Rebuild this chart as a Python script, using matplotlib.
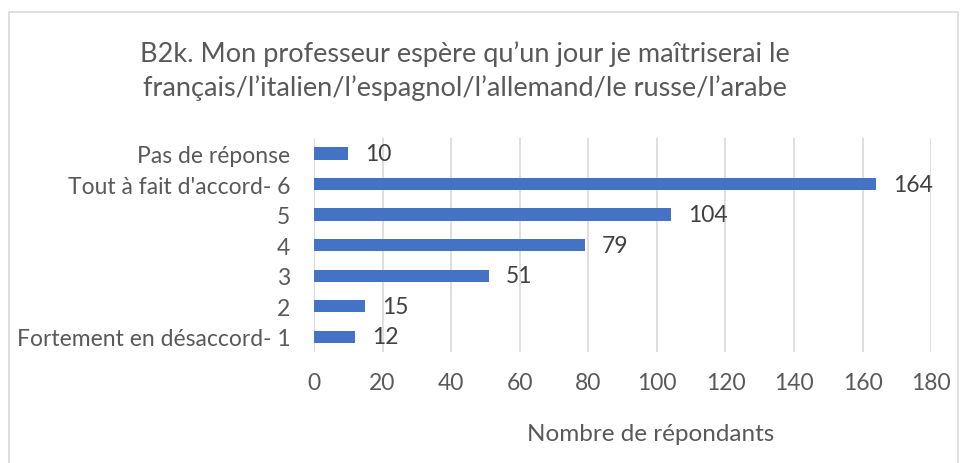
import matplotlib.pyplot as plt
from matplotlib.patches import Rectangle

# Données
categories = ["Fortement en désaccord- 1", "2", "3", "4", "5",
              "Tout à fait d'accord- 6", "Pas de réponse"]
valeurs = [12, 15, 51, 79, 104, 164, 10]
ticks_x = [0, 20, 40, 60, 80, 100, 120, 140, 160, 180]

plt.rcParams['font.family'] = ['Lato', 'DejaVu Sans']
gris = '#595959'

fig = plt.figure(figsize=(9.63, 4.64), dpi=100)
fig.patches.append(Rectangle((9 / 963, -0.01), 0.995 - 9 / 963, 1 - 13 / 464 + 0.01,
                             transform=fig.transFigure, fill=False,
                             edgecolor='#d9d9d9', linewidth=1.2))

ax = fig.add_axes([0.326, 0.239, 0.641, 0.461])
ax.barh(range(len(categories)), valeurs, height=0.4, color='#4472c4', zorder=3)
for i, v in enumerate(valeurs):
    ax.text(v + 5, i, str(v), va='center', ha='left', fontsize=16.5, color='#404040')

ax.set_xlim(0, 180)
ax.set_ylim(-0.5, len(categories) - 0.5)
ax.set_xticks(ticks_x)
ax.set_yticks(range(len(categories)))
ax.set_yticklabels(categories)
ax.tick_params(axis='both', length=0, labelsize=16.5, labelcolor=gris)
ax.tick_params(axis='x', pad=14)
ax.tick_params(axis='y', pad=17)
ax.grid(axis='x', color='#d9d9d9', linewidth=1.2, zorder=0)
for s in ax.spines.values():
    s.set_visible(False)
ax.axvline(0, color='#d9d9d9', linewidth=1.2, zorder=1)

ax.set_xlabel('Nombre de répondants', fontsize=17.5, color=gris, labelpad=22)
ax.xaxis.set_label_coords(0.545, -0.33)

fig.text(0.483, 0.846, "B2k. Mon professeur espère qu’un jour je maîtriserai le\n"
         "français/l’italien/l’espagnol/l’allemand/le russe/l’arabe",
         ha='center', va='center', fontsize=19.5, color=gris, linespacing=1.4)

fig.savefig('out.png', dpi=100)
